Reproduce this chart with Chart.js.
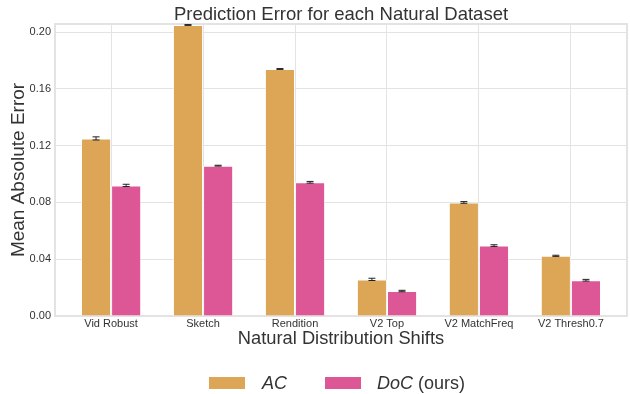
<!DOCTYPE html>
<html>
<head>
<meta charset="utf-8">
<script src="https://cdn.jsdelivr.net/npm/chart.js@4.4.1/dist/chart.umd.min.js"></script>
<style>
  body { margin: 0; background: #fff; font-family: "Liberation Sans", Arial, sans-serif; }
  #wrap { position: relative; width: 630px; height: 394px; }
  #title { position: absolute; left: 55px; width: 572px; top: 3px; text-align: center;
           font-size: 18.5px; color: #333; line-height: 21px; }
  .legend { position: absolute; top: 372px; height: 22px; font-size: 18px; color: #333; line-height: 22px; }
  .sw { position: absolute; width: 36px; height: 12px; top: 5px; }
</style>
</head>
<body>
<div id="wrap">
  <canvas id="chart" width="630" height="394"></canvas>
  <div id="title">Prediction Error for each Natural Dataset</div>
  <div class="legend" style="left:209px"><span class="sw" style="background:#dda656"></span><span style="position:absolute;left:53px"><i>AC</i></span></div>
  <div class="legend" style="left:325px"><span class="sw" style="background:#dd5797"></span><span style="position:absolute;left:52px;white-space:nowrap"><i>DoC</i> (ours)</span></div>
</div>
<script>
const categories = ['Vid Robust', 'Sketch', 'Rendition', 'V2 Top', 'V2 MatchFreq', 'V2 Thresh0.7'];
const acValues = [0.1251, 0.2050, 0.1740, 0.0258, 0.0800, 0.0424];
const acErrors = [0.0011, 0.0003, 0.0003, 0.0008, 0.0006, 0.0004];
const docValues = [0.0920, 0.1059, 0.0942, 0.0176, 0.0496, 0.0252];
const docErrors = [0.0008, 0.0003, 0.0006, 0.0005, 0.0006, 0.0006];
const yTicks = [0.00, 0.04, 0.08, 0.12, 0.16, 0.20];

const acColor = '#dda656';
const docColor = '#dd5797';
const gridColor = '#e3e3e3';
const textColor = '#333';

const errorBars = {
    id: 'errorBars',
    afterDatasetsDraw(chart) {
        const ctx = chart.ctx;
        const y = chart.scales.y;
        ctx.save();
        ctx.strokeStyle = '#222';
        ctx.lineWidth = 1;
        chart.data.datasets.forEach((ds, di) => {
            const meta = chart.getDatasetMeta(di);
            meta.data.forEach((bar, i) => {
                const v = ds.data[i].y;
                const e = ds.errors[i];
                const top = y.getPixelForValue(v + e);
                const bot = y.getPixelForValue(v - e);
                ctx.beginPath();
                ctx.moveTo(bar.x, top);
                ctx.lineTo(bar.x, bot);
                ctx.moveTo(bar.x - 3.5, top);
                ctx.lineTo(bar.x + 3.5, top);
                ctx.moveTo(bar.x - 3.5, bot);
                ctx.lineTo(bar.x + 3.5, bot);
                ctx.stroke();
            });
        });
        ctx.restore();
    }
};

const frame = {
    id: 'frame',
    beforeDatasetsDraw(chart) {
        const a = chart.chartArea;
        const ctx = chart.ctx;
        ctx.save();
        ctx.strokeStyle = gridColor;
        ctx.lineWidth = 2;
        ctx.strokeRect(a.left, a.top, a.right - a.left, a.bottom - a.top);
        ctx.restore();
    }
};

const ctx = document.getElementById('chart').getContext('2d');
new Chart(ctx, {
    type: 'bar',
    data: {
        datasets: [
            {
                label: 'AC',
                data: acValues.map((v, i) => ({x: i, y: v})),
                errors: acErrors,
                backgroundColor: acColor,
                borderColor: 'rgba(255,255,255,0.6)',
                borderWidth: 1
            },
            {
                label: 'DoC (ours)',
                data: docValues.map((v, i) => ({x: i, y: v})),
                errors: docErrors,
                backgroundColor: docColor,
                borderColor: 'rgba(255,255,255,0.6)',
                borderWidth: 1
            }
        ]
    },
    options: {
        responsive: false,
        animation: false,
        categoryPercentage: 0.655,
        barPercentage: 1.0,
        layout: {padding: {top: 24, right: 3, bottom: 40, left: 0}},
        plugins: {
            legend: {display: false},
            title: {display: false},
            tooltip: {enabled: false}
        },
        scales: {
            x: {
                type: 'linear',
                min: -0.61,
                max: 5.61,
                offset: false,
                afterFit: (scale) => { scale.height = 38; },
                ticks: {
                    stepSize: 1,
                    includeBounds: false,
                    autoSkip: false,
                    maxRotation: 0,
                    padding: 1,
                    color: textColor,
                    font: {family: 'Liberation Sans', size: 11},
                    callback: (v) => categories[v] !== undefined && Number.isInteger(v) ? categories[v] : ''
                },
                grid: {color: gridColor, drawTicks: false, offset: false},
                border: {display: false},
                title: {
                    display: true,
                    text: 'Natural Distribution Shifts',
                    color: textColor,
                    font: {family: 'Liberation Sans', size: 18.3},
                    padding: {top: 0, bottom: 4}
                }
            },
            y: {
                min: 0,
                max: 0.2057,
                afterFit: (scale) => { scale.width = 55; },
                afterBuildTicks: (scale) => { scale.ticks = yTicks.map(v => ({value: v})); },
                ticks: {
                    padding: 4,
                    color: textColor,
                    font: {family: 'Liberation Sans', size: 11},
                    callback: (v) => v.toFixed(2)
                },
                grid: {color: gridColor, drawTicks: false},
                border: {display: false},
                title: {
                    display: true,
                    text: 'Mean Absolute Error',
                    color: textColor,
                    font: {family: 'Liberation Sans', size: 19},
                    padding: {top: 7, bottom: 0}
                }
            }
        }
    },
    plugins: [frame, errorBars]
});
</script>
</body>
</html>
